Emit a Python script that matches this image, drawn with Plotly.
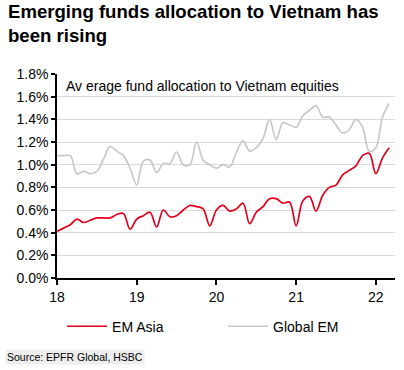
import plotly.graph_objects as go

months = list(range(51))  # Jan 2018 .. Mar 2022
em_asia = [0.41, 0.44, 0.47, 0.52, 0.49, 0.51, 0.53, 0.53, 0.53, 0.56, 0.57, 0.43,
           0.52, 0.55, 0.58, 0.45, 0.60, 0.54, 0.55, 0.60, 0.64, 0.63, 0.61, 0.46,
           0.60, 0.64, 0.59, 0.61, 0.66, 0.48, 0.58, 0.63, 0.70, 0.70, 0.66, 0.67,
           0.46, 0.68, 0.72, 0.59, 0.73, 0.80, 0.82, 0.91, 0.95, 0.99, 1.08, 1.10,
           0.92, 1.06, 1.15]
global_em = [1.08, 1.08, 1.08, 0.92, 0.94, 0.92, 0.94, 1.05, 1.16, 1.12, 1.08, 0.97,
             0.82, 1.03, 1.04, 0.93, 1.01, 1.01, 1.11, 1.00, 1.00, 1.20, 1.04, 1.00,
             0.97, 1.00, 0.98, 1.11, 1.21, 1.12, 1.15, 1.23, 1.40, 1.22, 1.37, 1.35,
             1.33, 1.43, 1.48, 1.52, 1.42, 1.42, 1.35, 1.28, 1.31, 1.40, 1.33, 1.12,
             1.15, 1.42, 1.54]
year_ticks = [18, 19, 20, 21, 22]
y_ticks = [0.0, 0.2, 0.4, 0.6, 0.8, 1.0, 1.2, 1.4, 1.6, 1.8]

xs = [18 + m / 12 for m in months]
FONT = "Arial, Liberation Sans, sans-serif"

fig = go.Figure()
fig.add_trace(go.Scatter(x=xs, y=em_asia, name="EM Asia", mode="lines",
                         line=dict(color="#e3001b", width=1.7, shape="spline", smoothing=1.0)))
fig.add_trace(go.Scatter(x=xs, y=global_em, name="Global EM", mode="lines",
                         line=dict(color="#c8c8c8", width=1.7, shape="spline", smoothing=1.0)))

fig.update_layout(
    width=404, height=370,
    margin=dict(l=57, r=9, t=74, b=92, autoexpand=False),
    paper_bgcolor="white", plot_bgcolor="white",
    font=dict(family=FONT, size=13, color="#000000"),
    showlegend=True,
    legend=dict(orientation="h", x=0.015, y=-0.16, xanchor="left", yanchor="top",
                font=dict(size=14, family=FONT), itemwidth=40,
                entrywidth=106, entrywidthmode="pixels", bgcolor="rgba(0,0,0,0)"),
    xaxis=dict(range=[18, 22.24], tickvals=year_ticks, ticktext=[str(v) for v in year_ticks],
               showgrid=False, showline=True, linecolor="black", linewidth=1.5,
               ticks="outside", ticklen=5, tickcolor="black", tickwidth=1.5,
               tickfont=dict(size=14), zeroline=False),
    yaxis=dict(range=[0, 1.8], tickvals=y_ticks, ticktext=[f"{v:.1f}%" for v in y_ticks],
               showgrid=True, gridcolor="#d9d9d9", gridwidth=1.2,
               showline=True, linecolor="black", linewidth=1.5,
               ticks="outside", ticklen=4, tickcolor="black", tickwidth=1.5,
               tickfont=dict(size=14), zeroline=False),
    annotations=[
        dict(text="<b>Emerging funds allocation to Vietnam has<br>been rising</b>",
             xref="paper", yref="paper", x=-0.152, y=1.37, xanchor="left", yanchor="top",
             align="left", showarrow=False, font=dict(size=18.6, family=FONT, color="black")),
        dict(text="Av erage fund allocation to Vietnam equities",
             xref="paper", yref="paper", x=0.02, y=0.99, xanchor="left", yanchor="top",
             showarrow=False, font=dict(size=14, family=FONT, color="black")),
        dict(text="Source: EPFR Global, HSBC", xref="paper", yref="paper",
             x=-0.155, y=-0.35, xanchor="left", yanchor="top", showarrow=False,
             bgcolor="#eeeeee", font=dict(size=10.5, family=FONT, color="black")),
    ],
)

fig.write_html("out.html", config={"displayModeBar": False},
               post_script="document.body.style.margin='0';")
